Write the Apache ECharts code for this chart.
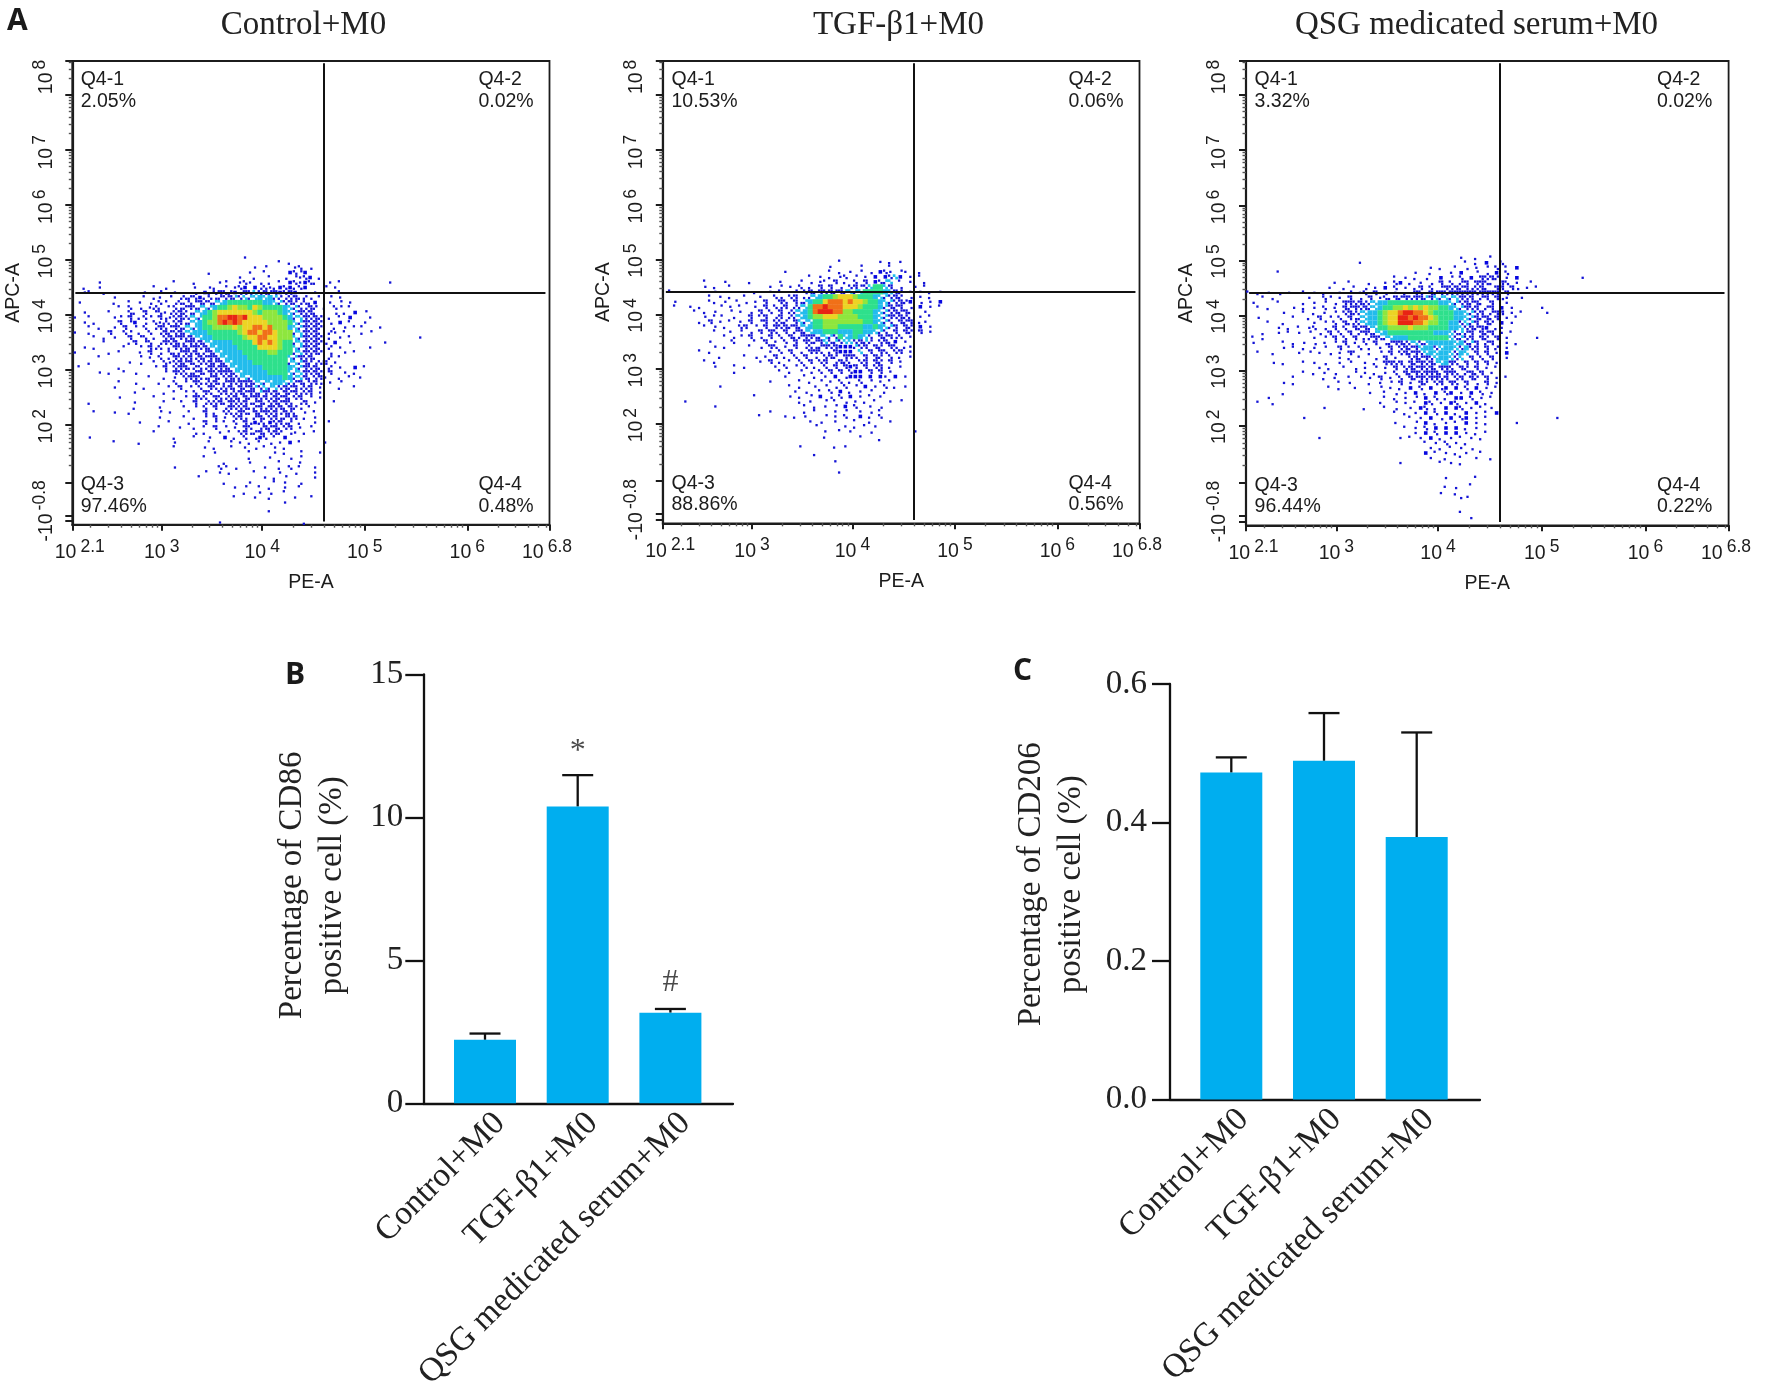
<!DOCTYPE html>
<html><head><meta charset="utf-8">
<script src="https://cdn.jsdelivr.net/npm/echarts@6/dist/echarts.min.js"></script>
<style>html,body{margin:0;padding:0;background:#fff}#c{width:1768px;height:1389px}</style>
</head><body><div id="c"></div>
<script>
const categories = ['Control+M0', 'TGF-β1+M0', 'QSG medicated serum+M0'];

const cd86Values = [2.22, 10.38, 3.17];
const cd86ErrorTops = [2.44, 11.48, 3.3];
const cd206Values = [0.472, 0.489, 0.379];
const cd206ErrorTops = [0.494, 0.558, 0.53];

const quadrantLabels = [
  ['Q4-1', '2.05%', 'Q4-2', '0.02%', 'Q4-3', '97.46%', 'Q4-4', '0.48%'],
  ['Q4-1', '10.53%', 'Q4-2', '0.06%', 'Q4-3', '88.86%', 'Q4-4', '0.56%'],
  ['Q4-1', '3.32%', 'Q4-2', '0.02%', 'Q4-3', '96.44%', 'Q4-4', '0.22%']
];

// Flow plot axis positions, in decades of the display scale
const xTickValues = [2.98, 3.97, 4.98, 5.99];
const xLabelValues = [2.173, 2.98, 3.97, 4.98, 5.99, 6.775];
const xLabelPowers = ['2.1', '3', '4', '5', '6', '6.8'];
const yTickValues = [8.62, 8, 7, 6, 5, 4, 3, 2, 0.96, 0.36, 0.26];
const yLabelValues = [8.33, 6.96, 5.97, 4.98, 3.98, 2.98, 1.98, 0.44];
const yLabelPowers = ['8', '7', '6', '5', '4', '3', '2', '-0.8'];
const gateX = 4.575, gateY = 4.41;

// Events: rows from high APC-A to low, columns from low PE-A to high.
// 1 = one blue dot mid-cell; a b c d = one dot in the NW NE SW SE of the cell; A B = two diagonal dots; C = three dots;
// e = two cyan dots, f = one cyan and one blue dot;
// 2 = solid blue, 3 cyan, 4 green, 5 lime, 6 yellow, 7 orange, 8 red; blank = no events; | is only a ruler.
const densityControl = [
"","","",
"                                  1",
"                                         a c",
"                                    1 b     1A d",
"                           c       1  a    2Ab2",
"                                 1  c  a  d b1A2 c",
"     1              a   c    1b  1A1 d c a 2A12Ac  1 a         1",
"  c  1          a d     1  1c b 1A2 2dA1c2A2cA2   b 1",
"  1a  c       1  b  1   d 2cACAB2dCAeACBC2AC2   1    a",
"        1 |    a c1 b| dABA2cAdB|ACfAefe3e3|fBdACcBd a| b 1",
" 1      c | a 1 d Ab |dAcAbCBAfe|3444444433|efACBdAc2 | 1 b 1",
"         a| A d 1Bc a|AdBCAfef34|4565546544|443efAdCB |c Ab a",
"  1    a  | Ac C bA1d|ACBdfe3456|6666665455|543efCACc |  d c 2 b",
"1  a    1b| C cAb Cd1|ACBfef4457|7887866655|5543feCACB| c a 2   1",
"  1 c    C| b2 d A1Bc|ACdfe34557|8787666665|5554efCACB| d 2 a  1",
"   a c  1 |C b A dCAb|CAfef34455|5565667767|5553efCACB|  c 1 ab   1",
"1  c   C  |Ab c A dCB|ACfe333444|4445677677|6555feCACc| B1 a  d b",
"    a c 1 | C bA c AC|BCACfe3344|4444566776|6555efCACB| c 1 a             1",
"      a   | cC bA dCA|CcBCACfe33|3344446767|6544feCACB|d 2  1      1",
"  1 c     |a  b CdA c|CACBCACfe3|3334444666|6544efCACc| B 1     1",
"1      c a|   1 C d A|cBCACcBCfe|3333444445|5444feCACB| d  1 a",
"     a    |   b 1 A c|CAACdCBCCf|e333344444|444efCACc | B a",
"   c      | 1 d  a A1|ACBCcAACBC|fe33334444|444fefCBdA|C 1",
" a       c|      b C |ACCcBAdCAC|Cfe3333344|4443efCACc| B 1  2 a",
"     1 c  |a d     b |CAAdBCcCAC|CCfe333334|444efeCACB| C  1 c",
"          |     a  c |1 ACCAdBCc|ACBfef3333|3343feCcAC|1  c a 1",
"         a|  d    c  |A b CAdACc|BCACCCfefe|33efBCcACd| 1 b",
"        1 |    c    a| C b A CAd|ACcCBCfAef|eACBCdAC 1|   c  a",
"          |  1     c |a b A CA A|CdACBCAfCA|CcCBCdAC 1",
"         1|      a   |c b CAA CA|dACcCBCACd|CBCcAC b 1",
"   c      |  1     a | b  C dAAC|cCAACdBCcA|CBCA dC 1 |  a",
"          |  c    1  |  a b A C |dCAACcBCdC|ACcCBd a  ",
"    a   1 | c     b 1|   a  C c |AAdCAcCBCA|CdCBc 1 a ",
"          |       1  |  a c b C |1 ACd BCcA|CdBAC c 1 ",
"          |   1     a|   c  C b |a A Cd2Bc2|ACdB c  1 | a",
"          |       a  | 1  c a C |b 1 CA dCB|CcAC 1 b  ",
"          |      a   |    d c  1| a ACdBCcA|CB d1 c a ",
"   1      |          |c   a  1  |2 c A d2A |a 2 ",
"        a |   c      |1      a  | b 1 c a d| 1 2 a    |1",
"                    a     1 c  b  1 d a 1 c",
"                            1      a    1 c  b   1",
"                          a        c   1   d b",
"                              c    1     a   1",
"                    1        Ab d     1  c A a  1",
"                          b  1 c    a    1  d   1",
"                         a            1 c b     1",
"                              c    1    a 1  d",
"                                1 b  a c  1  a",
"                                  c  1 d  a",
"                                a   1  c    1  b",
"                                          1",
"",
"                                       a",
"",
"                             1                c"
];

const densityTGF = [
"","","","",
"                                   a       1 c 1",
"                                 1     b     a",
"                        1        a c 1 b d 2A1 b1  c",
"                             a 1 c 1A b 1 2 2Ae2 1 a",
"        a   1    c     1   b d 1a C c A C 2Afe a 1  c",
"        1 |c  a      | 1 b 1 A c| C C d ACb|Ae44eC d  |1 a",
" a        |1       c | 1 a  b AC|cCACBCfefe|44443eCB 1| 1 c 1",
"         a| 1 c  a  1|  Ad AC cf|e344566654|443efACB d| 1 c",
"  1      a|c 1 b d 1 |C  CA Cdf3|4467776766|5443efACB2| d 1 2",
"  a  1 c  | b 1 a  1 |C AdC Bfe4|7787776665|4443fCBC d| 2 1 a",
"      a c |1  b 1 d C| A C Bfe34|7888775544|443efACBCc|  1",
"        1 |ab  c  C a|C dC Bfe34|5566655554|443efCACBc| 1 a",
"       c C| 1 a 1 C b|C AAB Cefe|4455555555|443efA CBC| c1",
"        a |1 c  AC b |C CACBCfe3|4455544444|3343efC CB| 2 1",
"          |a  1 b d C| CA C BCfe|3344433344|33efA C CB| C 1",
"          |  a cb C d| C A CcBCC|AfefA4e343|eA CBCdA 1",
"         1|   bc   a |C 1 A C CA|BCeAfAeeAC|fB ACc2 1",
"          |1 c    a d| CA 1 C dA|dBCAC222fA|C CB CA c1",
"       a c|          | 1 A C d C|CA cC222 e| C CA AC 1",
"          | c    a d |1 C c A C |d ACB CCA |C CB A c 1",
"        a |c        1| C c a A C| AC dCBc A|C CB C 1",
"          |1   a c   |  1 A b A |c A C C2C |C AC c 1",
"          |    c     |   a c b d| A C C A22| C C 1",
"          |          |    1   a |c 1 2 d222| 2 21 2 1",
"          |          | 1     a c| b 1 A c A| b 1 a",
"           1             a c  1 b d A b 2 1 A c 1",
"                          1 d  a A 2 c 1 b  c",
"                  a      1 c b 2 d A 2 1 a 1",
"    1                      c 1  b a d 1 c a  1 b",
"          1                 a c 1 b 2 A  1 d",
"                     1      c a   1 b  1 d a",
"                   a    1 c 1   b 1 A  2 c A",
"                             1 d  1   a  c   1",
"                              b     1 c a 1",
"                                1  a 1   d        1",
"                                c      1",
"                                           a",
"                           1      c 1",
"",
"                              a",
"                                  1",
"",
"                                   c"
];

const densityQSG = [
"","","",
"                                          1  c  a",
"                      1                    a c 2  A",
"                                    1 c  a d 1 b A a 2",
"      a                          1  c   1 2  b d 2 A",
"                             a 1 c d  2 b A 2 CACB 1 2            1",
"                 1  a   c  1 A2 c 1 d C A BC CCAc CA 1  a",
"                1  c a d 1 2 A 1 cC A bCACBCdACc CC Cd 1 a",
"a c 1 d 1  a 1 c  1 b 1A C d 1 c CA CBCACCCCCACCCC C",
"   a c    |  1  Ab 1 |C d C 1AcC|BCACCfCefe|feCAC BC C|d1  1",
" 1    a   | c 1 b d C|CACBfe3344|4444444433|efACBCc C | 1",
"  a c    1| c 1 A 1 C|BCACfe3445|5656565544|3efCAC BC |2 1     1",
"       1  | a c 1 b A|CBfe334566|7887765444|433efAC BC|C 1 a    1",
"  1      a|  c C b A |Cdfe334566|8878776544|433efCBCcC| 1 a",
"    a  c  |   1 b A C|cBfe334566|8887765544|33AefC CB |2 1",
"      1 c |a 1A d C A| CBCfe4455|5565554444|33eACBC2 c|1",
"   c  1 a |1 b d C A |C BCAfe344|4444444333|eAfBC CBC |1 a",
" a c      |   1 b C A| C cBCAfe3|3344444444|eAfAC CB C| 1     1",
" 1     a c| 1 d 1 b C| 1 A C dBC|CBfeAf3333|3e3AfC BC | 1 c",
"       1 a| c 1 b  C |a A c 1 C |ACBCe33Ae3|3eA3AC C B| 1",
"  a  c    |1 b 1 d 1 |Ca  c b C |ACBCAe3e33|eA3e C C 1| 2",
"          |        1 |c a  d C 1|  ACBCAe33|eAe C A C | 1",
"     1 c  | a 1 d  1 |b  1 c CCA|C CBCACfe3|CA C C C 1",
"          |    1 c  a| d 1 b 1 C| ACBCACcCC|A CB C 1 a",
"          | a c 1 d  | b 1 c 1 A| CBCACCCcC|CA BCcC 1",
"         a|     c 1  |a b 1 C 1 |A CBCACCAC| AC CB C 1| a",
"       1 c|        a |1   c 1 b |C 1 CB AC |CA C d C 1",
"          |      a c | 1    b 1 |c 2 A 2 d2| 2 A 2 1 a",
"       c  |          |    1  a d| 1 2 c 2 A|2 1 2 A 1 ",
"    1     |          |       a c| 1 b 2 A c| 22 A 1 a ",
"  a  c    |          |      1  b| 1 a 2A 1 |2A 1 2 c  ",
"          |     1    |   c   a d|  1 2A c 2| 2A 1 a 1 ",
"          |          |         a| c 1 2 A 2| c 2 1 a 2",
"          | 1        |          |  a 1 2 d |2 A2 1 a  |           1",
"          |          |         1|   b 2 c 1| a 2 1 c  |   1",
"          |          |          | a 1 A 2 2| 2 c 1",
"          |          |          |   1 2 A 2| 2 1 c a",
"          |    1     |          |1 a 1 2 c |1 a 1 c",
"          |          |          |     a 1 A| 1 c",
"          |          |          |      1 c |a 1 d",
"          |          |          |     2 a 1| c 1  a",
"          |          |          |      1  c|  a  1  c",
"          |          |          |1       a |1 c",
"","",
"                                       1     a",
"                                            c",
"                                       a 1",
"                                      1  c",
"                                          1b",
"","",
"                                          a",
"                                            1",
"",
"                                     c"
];

const flowPanels = [
  { density: densityControl, title: categories[0] },
  { density: densityTGF, title: categories[1] },
  { density: densityQSG, title: categories[2] }
];
const densityColors = ['#1414d6', '#0808e0', '#22bcec', '#2ee08c', '#8ee63e', '#ecd424', '#f07018', '#e82414', '#22bcec'];
const densitySizes = [2.3, 3.6, 5.1, 5.3, 5.3, 5.3, 5.3, 5.3, 2.7];
const cellX = 0.0493, cellY = 0.0909, firstX = 2.125, firstY = 5.32;
// dot placement inside a cell: [x quarter-cells, y quarter-cells, class]
const dotOffsets = {
  a: [[-1, 1, 1]], b: [[1, 1, 1]], c: [[-1, -1, 1]], d: [[1, -1, 1]],
  A: [[-1, 1, 1], [1, -1, 1]], B: [[1, 1, 1], [-1, -1, 1]],
  C: [[-1, 1, 1], [1, 1, 1], [1, -1, 1]],
  e: [[-1, 1, 9], [1, -1, 9]], f: [[1, 1, 9], [-1, -1, 1]]
};

const SERIF = '"Liberation Serif","Times New Roman",serif';
const SANS = '"Liberation Sans",Arial,sans-serif';
const INK = '#1c1c1c';

function densityPoints(rows) {
  const pts = [];
  rows.forEach((line, r) => {
    const row = line.replace(/\|/g, '');
    for (let c = 0; c < row.length; c++) {
      const ch = row[c];
      if (ch === ' ') continue;
      const x = firstX + c * cellX, y = firstY - r * cellY;
      if (dotOffsets[ch]) dotOffsets[ch].forEach(o => pts.push([x + o[0] * cellX / 4, y + o[1] * cellY / 4, o[2]]));
      else pts.push([x, y, +ch]);
    }
  });
  return pts;
}
function minorDecades(ticks, low, high) {
  const out = [];
  for (let i = 0; i + 1 < ticks.length; i++) {
    const a = ticks[i], b = ticks[i + 1];
    [2, 3, 4, 5, 6, 7, 8, 9].forEach(k => out.push(a + Math.log10(k) * (b - a)));
  }
  return out.filter(v => v > low && v < high);
}

const grid = [], xAxis = [], yAxis = [], series = [], title = [], graphic = [];

const flowBoxes = [
  { l: 72.3, r: 549.5, t: 61, b: 524.7, qx: [80.7, 478.4], qy: [80.5, 103, 486, 507.7], xt: 298.5 },
  { l: 662.8, r: 1139.5, t: 61, b: 523.3, qx: [671.5, 1068.4], qy: [80.5, 102.5, 484.7, 506], xt: 893.5 },
  { l: 1246, r: 1728.6, t: 61, b: 525.3, qx: [1254.6, 1657], qy: [81, 103, 486.7, 507.8], xt: 1471.5 }
];

const xMinor = minorDecades([1.98, 2.98, 3.97, 4.98, 5.99, 6.99], 2.1, 6.8);
const yMinor = minorDecades([0.96, 2, 3, 4, 5, 6, 7, 8, 9], 0.96, 8.62);

flowPanels.forEach((p, i) => {
  const b = flowBoxes[i];
  const gi = grid.length;
  grid.push({ left: b.l, top: b.t, width: b.r - b.l, height: b.b - b.t, show: true, borderColor: INK, borderWidth: 1.8, backgroundColor: 'transparent', outerBoundsMode: 'none' });
  const ax = xAxis.length;
  xAxis.push({
    type: 'value', gridIndex: gi, min: 2.1, max: 6.8, splitLine: { show: false }, position: 'bottom',
    name: 'PE-A', nameLocation: 'middle', nameGap: 48,
    nameTextStyle: { fontFamily: SANS, fontSize: 19.5, color: INK },
    axisLine: { show: true, onZero: false, lineStyle: { color: INK, width: 2.2 } },
    axisTick: { show: true, length: 6, lineStyle: { color: INK, width: 2 }, customValues: [2.1].concat(xTickValues, [6.8]) },
    axisLabel: {
      show: true, margin: 12, customValues: xLabelValues, hideOverlap: false,
      formatter: v => '{a|10}{s|' + xLabelPowers[xLabelValues.indexOf(v)] + '}',
      rich: {
        a: { fontFamily: SANS, fontSize: 19.5, color: INK, padding: [6, 0, 0, 0] },
        s: { fontFamily: SANS, fontSize: 17.5, color: INK, padding: [0, 0, 6, 4] }
      }
    }
  }, {
    type: 'value', gridIndex: gi, min: 2.1, max: 6.8, splitLine: { show: false }, position: 'bottom',
    axisLine: { show: false, onZero: false },
    axisTick: { show: true, length: 3, lineStyle: { color: '#555', width: 1.4 }, customValues: xMinor },
    axisLabel: { show: false }
  });
  const ay = yAxis.length;
  yAxis.push({
    type: 'value', gridIndex: gi, min: 0.19, max: 8.62, splitLine: { show: false }, position: 'left',
    name: 'APC-A', nameLocation: 'middle', nameGap: 49,
    nameTextStyle: { fontFamily: SANS, fontSize: 19.5, color: INK },
    axisLine: { show: true, onZero: false, lineStyle: { color: INK, width: 2.2 } },
    axisTick: { show: true, length: 7, lineStyle: { color: INK, width: 2 }, customValues: yTickValues },
    axisLabel: {
      show: true, rotate: 90, margin: 16, hideOverlap: false,
      customValues: yLabelValues,
      formatter: v => {
        const idx = yLabelValues.indexOf(v);
        return (idx === 7 ? '{a|-10}' : '{a|10}') + '{s|' + yLabelPowers[idx] + '}';
      },
      rich: {
        a: { fontFamily: SANS, fontSize: 19.5, color: INK, padding: [6, 0, 0, 0] },
        s: { fontFamily: SANS, fontSize: 17.5, color: INK, padding: [0, 0, 6, 3] }
      }
    }
  }, {
    type: 'value', gridIndex: gi, min: 0.19, max: 8.62, splitLine: { show: false }, position: 'left',
    axisLine: { show: false, onZero: false },
    axisTick: { show: true, length: 3.5, lineStyle: { color: '#555', width: 1.4 }, customValues: yMinor },
    axisLabel: { show: false }
  });
  series.push({
    type: 'scatter', xAxisIndex: ax, yAxisIndex: ay, symbol: 'rect', silent: true, animation: false,
    data: densityPoints(p.density),
    symbolSize: d => densitySizes[d[2] - 1],
    itemStyle: { color: q => densityColors[q.data[2] - 1], opacity: 1 },
    markLine: {
      silent: true, symbol: 'none', animation: false, label: { show: false },
      lineStyle: { color: '#111', width: 2, type: 'solid' },
      data: [
        [{ coord: [gateX, 8.58] }, { coord: [gateX, 0.25] }],
        [{ coord: [2.13, gateY] }, { coord: [6.76, gateY] }]
      ]
    }
  });
  title.push({
    text: p.title, left: b.xt, top: 4, textAlign: 'center',
    textStyle: { fontFamily: SERIF, fontWeight: 'normal', fontSize: 33, color: '#222' }
  });
  const q = quadrantLabels[i];
  [[b.qx[0], b.qy[0], q[0]], [b.qx[0], b.qy[1], q[1]], [b.qx[1], b.qy[0], q[2]], [b.qx[1], b.qy[1], q[3]],
   [b.qx[0], b.qy[2], q[4]], [b.qx[0], b.qy[3], q[5]], [b.qx[1], b.qy[2], q[6]], [b.qx[1], b.qy[3], q[7]]].forEach(t => {
    graphic.push({ type: 'text', left: t[0], top: t[1] - 11, style: { text: t[2], font: '19.5px ' + SANS, fill: INK }, silent: true });
  });
});

const barBoxes = [
  { l: 423.3, r: 733, t: 674.5, b: 1103.3, first: 485, max: 15, step: 5, fmt: v => String(v), vals: cd86Values, tops: cd86ErrorTops, name: 'Percentage of CD86\npositive cell (%)', gap: 70.7, up: 7, tickMargin: 20, shift: 0.16 },
  { l: 1170, r: 1480, t: 684, b: 1099.4, first: 1231.3, max: 0.6, step: 0.2, fmt: v => v.toFixed(1), vals: cd206Values, tops: cd206ErrorTops, name: 'Percentage of CD206\npositive cell (%)', gap: 79, up: 15, tickMargin: 23, shift: 0.13 }
];
const barSpacing = 92.7;

barBoxes.forEach(b => {
  const gi = grid.length;
  grid.push({ left: b.l, top: b.t, width: b.r - b.l, height: b.b - b.t, outerBoundsMode: 'none' });
  const ax = xAxis.length, ay = yAxis.length;
  const shifted = categories.map((_, i) => i + b.shift);
  xAxis.push({
    type: 'value', gridIndex: gi, min: (b.l - b.first) / barSpacing, max: (b.r - b.first) / barSpacing,
    splitLine: { show: false },
    axisLine: { show: true, onZero: false, lineStyle: { color: '#111', width: 2.3 } },
    axisTick: { show: false },
    axisLabel: {
      show: true, rotate: 45, margin: 15, hideOverlap: false, customValues: shifted,
      formatter: v => categories[Math.round(v - b.shift)],
      fontFamily: SERIF, fontSize: 33.5, color: '#222'
    }
  });
  yAxis.push({
    type: 'value', gridIndex: gi, min: 0, max: b.max, interval: b.step, splitLine: { show: false },
    name: b.name, nameLocation: 'middle', nameGap: b.gap,
    nameTextStyle: { fontFamily: SERIF, fontSize: 33, lineHeight: 40, color: '#222', padding: [0, 0, 0, b.up] },
    axisLine: { show: true, onZero: false, lineStyle: { color: '#111', width: 2.3 } },
    axisTick: { show: true, length: 18, lineStyle: { color: '#111', width: 2.3 } },
    axisLabel: { show: true, margin: b.tickMargin, formatter: b.fmt, fontFamily: SERIF, fontSize: 33, color: '#222' }
  });
  series.push({
    type: 'bar', xAxisIndex: ax, yAxisIndex: ay, barWidth: 62, silent: true, animation: false,
    data: b.vals.map((v, i) => [i, v]), itemStyle: { color: '#00aeef' }
  });
  series.push({
    type: 'custom', xAxisIndex: ax, yAxisIndex: ay, silent: true, animation: false,
    data: b.vals.map((v, i) => [i, v, b.tops[i]]),
    encode: { x: 0, y: [1, 2] },
    renderItem: (params, api) => {
      const base = api.coord([api.value(0), api.value(1)]);
      const top = api.coord([api.value(0), api.value(2)]);
      const st = { stroke: '#111', lineWidth: 2.3, fill: 'none' };
      return { type: 'group', children: [
        { type: 'line', shape: { x1: base[0], y1: base[1], x2: top[0], y2: top[1] }, style: st },
        { type: 'line', shape: { x1: top[0] - 15.5, y1: top[1], x2: top[0] + 15.5, y2: top[1] }, style: st }
      ] };
    }
  });
});

// significance marks on panel B
const sigMarks = [[1, 12.3, '*'], [2, 4.22, '#']];
series.push({
  type: 'scatter', xAxisIndex: 6, yAxisIndex: 6, symbolSize: 1, silent: true, animation: false,
  itemStyle: { color: 'transparent' }, data: sigMarks,
  label: { show: true, position: 'inside', formatter: q => q.data[2], fontFamily: SERIF, fontSize: 32, color: '#1c1c1c' }
});

[['A', 7, 6], ['B', 285, 660], ['C', 1013, 656]].forEach(t => {
  graphic.push({ type: 'text', left: t[1], top: t[2], style: { text: t[0], font: 'bold 30px "Open Sans",' + SANS, fill: '#1a1a1a' }, silent: true });
});

const chart = echarts.init(document.getElementById('c'), null, { renderer: 'canvas' });
chart.setOption({ animation: false, backgroundColor: '#fff', title, grid, xAxis, yAxis, series, graphic });
</script></body></html>
